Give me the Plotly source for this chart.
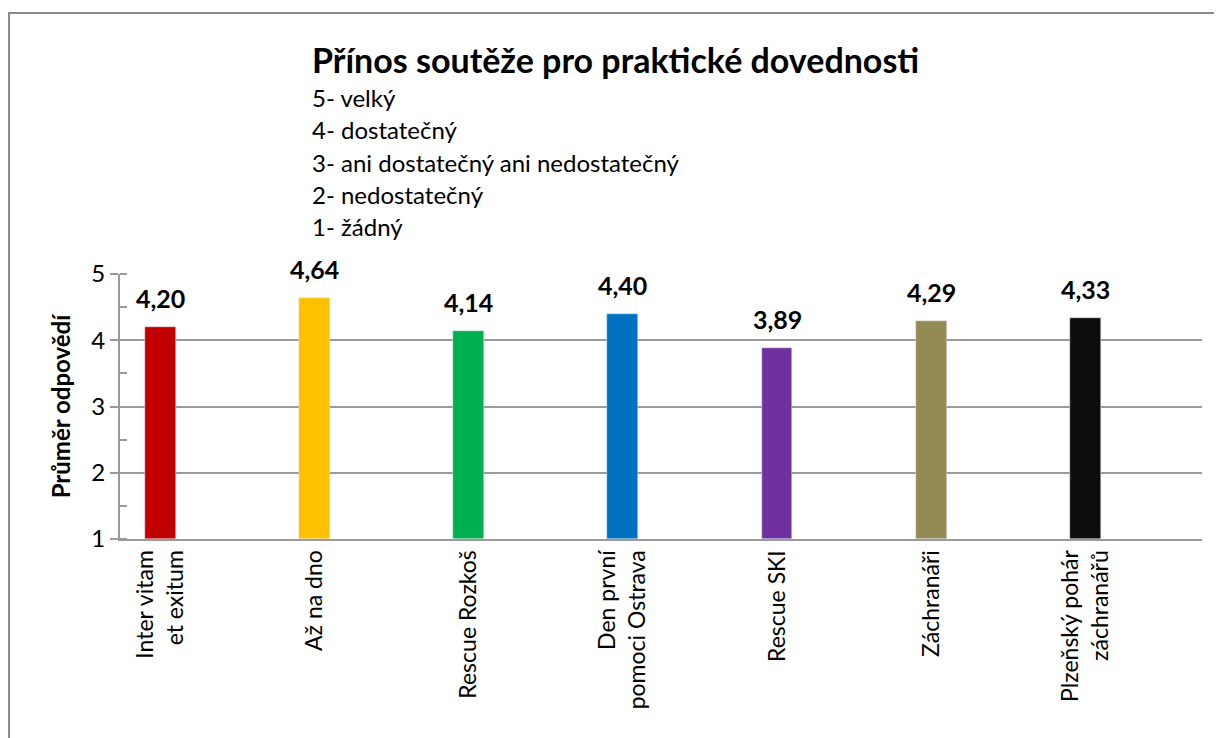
import plotly.graph_objects as go

souteze = ["Inter vitam<br>et exitum", "Až na dno", "Rescue Rozkoš",
           "Den první<br>pomoci Ostrava", "Rescue SKI", "Záchranáři",
           "Plzeňský pohár<br>záchranářů"]
prumery = [4.20, 4.64, 4.14, 4.40, 3.89, 4.29, 4.33]
barvy = ["#C00000", "#FFC000", "#00B050", "#0070C0", "#7030A0", "#948A54", "#0D0D0D"]
stupnice = ["5- velký", "4- dostatečný", "3- ani dostatečný ani nedostatečný",
            "2- nedostatečný", "1- žádný"]

# page body has an 8px margin, so the figure starts at (8, 8)
OFF = 8
W, H = 1214, 730
L, R, T, B = 112, 20, 266, 199
FONT = "Lato, 'Open Sans', sans-serif"


def px_x(x):
    return (x - OFF - L) / (W - L - R)


def px_y(y):
    return (H - B - (y - OFF)) / (H - T - B)


pozice = list(range(len(souteze)))

fig = go.Figure(go.Bar(
    x=pozice, y=[v - 1 for v in prumery], base=1,
    marker_color=barvy, width=0.2,
    showlegend=False, hoverinfo="skip",
))

for i, v in zip(pozice, prumery):
    fig.add_annotation(x=i, y=v, text="<b>" + f"{v:.2f}".replace(".", ",") + "</b>",
                       showarrow=False, yanchor="bottom", yshift=12,
                       font=dict(size=25, color="#000", family=FONT))

fig.add_annotation(xref="paper", yref="paper", x=px_x(310), y=px_y(59),
                   xanchor="left", yanchor="middle", showarrow=False,
                   text="<b>Přínos soutěže pro praktické dovednosti</b>",
                   font=dict(size=34, color="#000", family=FONT))
for k, t in enumerate(stupnice):
    fig.add_annotation(xref="paper", yref="paper", x=px_x(310), y=px_y(98 + 32 * k),
                       xanchor="left", yanchor="middle", showarrow=False, text=t,
                       font=dict(size=24, color="#000", family=FONT))

fig.add_shape(type="rect", xref="paper", yref="paper",
              x0=px_x(9), x1=px_x(1260), y0=px_y(13), y1=px_y(800),
              line=dict(color="#8a8a8a", width=2), layer="below")

fig.update_layout(
    width=W, height=H,
    margin=dict(l=L, r=R, t=T, b=B),
    paper_bgcolor="white", plot_bgcolor="white",
    font=dict(family=FONT, color="#000"),
    bargap=0,
)
fig.update_xaxes(
    range=[-0.26, 6.755], tickmode="array", tickvals=pozice, ticktext=souteze,
    tickangle=-90, tickfont=dict(size=23), showgrid=False,
    showline=True, linecolor="#9a9a9a", linewidth=2, ticks="", zeroline=False,
)
fig.update_yaxes(
    range=[1, 5], dtick=1, tickfont=dict(size=24),
    showgrid=True, gridcolor="#9a9a9a", gridwidth=2,
    showline=True, linecolor="#9a9a9a", linewidth=2,
    ticks="outside", ticklen=8, tickcolor="#9a9a9a", tickwidth=2,
    minor=dict(dtick=0.5, ticks="inside", ticklen=7, tickcolor="#9a9a9a",
               tickwidth=1.5, showgrid=False),
    title=dict(text="<b>Průměr odpovědí</b>", font=dict(size=24), standoff=14),
    zeroline=False,
)

fig.write_html("out.html")
